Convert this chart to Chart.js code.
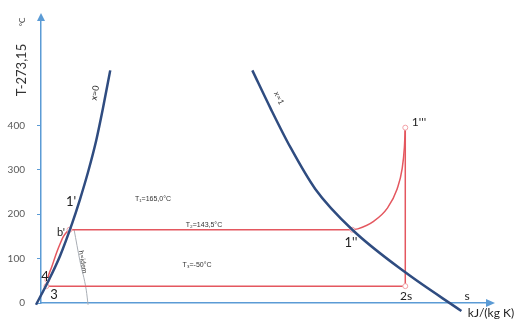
<!DOCTYPE html>
<html>
<head>
<meta charset="utf-8">
<script src="https://cdn.jsdelivr.net/npm/chart.js@4"></script>
<style>
html,body{margin:0;padding:0;background:#fff;}
#wrap{width:517px;height:323px;position:relative;}
</style>
</head>
<body>
<div id="wrap"><canvas id="c" width="517" height="323"></canvas></div>
<script>
// ---- data (s in arbitrary entropy units, T in °C) ----
const yTicks = [0, 100, 200, 300, 400];

const sSatLiquid = [-0.11, 0.16, 0.42, 0.69, 0.86, 1.04, 1.22, 1.37, 1.53];
const tSatLiquid = [-4, 49, 106, 180, 233, 295, 366, 439, 524];

const sSatVapour = [4.67, 5.07, 5.51, 6.06, 6.88, 8.05, 9.29];
const tSatVapour = [524, 439, 351, 257, 165, 69, -18];

const sHeating = [0.12, 0.14, 0.24, 0.35, 0.42, 0.49, 0.56, 0.63];
const tHeating = [38, 52, 82, 115, 133, 149, 159, 165];

const sEvap = [0.63, 6.88];
const tEvap = [165, 165];

const sSuper = [6.88, 7.0, 7.35, 7.65, 7.87, 7.98, 8.03, 8.05];
const tSuper = [165, 167, 184, 213, 257, 302, 350, 395];

const sExpansion = [8.05, 8.05];
const tExpansion = [395, 38];

const sCondense = [8.05, 0.12];
const tCondense = [38, 38];

const sStates = [0.12, 0.14, 0.63, 6.88, 8.05, 8.05];
const tStates = [38, 52, 165, 165, 395, 38];

const sIsenthalp = [0.73, 0.86, 1.0, 1.04];
const tIsenthalp = [166, 95, 29, -4];

const pts = (s, t) => s.map((v, i) => ({x: v, y: t[i]}));

const BLUE = '#2f4c80';
const RED = '#e4575f';
const AXIS = '#5b9bd5';

function line(s, t, color, width, extra) {
  return Object.assign({
    data: pts(s, t), showLine: true, borderColor: color, borderWidth: width,
    pointRadius: 0, fill: false, clip: false, cubicInterpolationMode: 'monotone'
  }, extra || {});
}

const annot = {
  id: 'annot',
  afterDraw(chart) {
    const ctx = chart.ctx;
    const {top, right} = chart.chartArea;
    const xs = chart.scales.x, ys = chart.scales.y;
    const x0 = xs.getPixelForValue(0), y0 = ys.getPixelForValue(0);
    ctx.save();
    // arrow heads
    ctx.fillStyle = AXIS;
    ctx.beginPath();
    ctx.moveTo(x0, top - 5); ctx.lineTo(x0 - 4, top + 3); ctx.lineTo(x0 + 4, top + 3); ctx.closePath(); ctx.fill();
    ctx.beginPath();
    ctx.moveTo(right + 6, y0); ctx.lineTo(right - 3, y0 - 4); ctx.lineTo(right - 3, y0 + 4); ctx.closePath(); ctx.fill();

    const txt = (t, x, y, font, color, rot) => {
      ctx.save();
      ctx.translate(x, y);
      if (rot) ctx.rotate(rot);
      ctx.font = font;
      ctx.fillStyle = color || '#222';
      ctx.textAlign = 'center';
      ctx.textBaseline = 'middle';
      ctx.fillText(t, 0, 0);
      ctx.restore();
    };
    // axis title
    txt('T-273,15', 22, 70, '13px Lato', '#333', -Math.PI / 2);
    txt('°C', 22, 22, '8px Lato', '#333', -Math.PI / 2);
    // curve names
    txt('x=0', 95, 93, '9px Lato', '#333', -80 * Math.PI / 180);
    txt('x=1', 279, 98, '8px Lato', '#333', 65 * Math.PI / 180);
    txt('h=idem', 83, 262, '7px Lato', '#333', 80 * Math.PI / 180);
    // state points
    txt("1'", 71, 202, '13px Lato', '#222');
    txt("b'", 61, 232, '11px Lato', '#222');
    txt('4', 45, 277, '13px Lato', '#222');
    txt('3', 54, 295, '13px Lato', '#222');
    txt("1''", 351, 243, '13px Lato', '#222');
    txt("1'''", 419, 122, '12px Lato', '#222');
    txt('2s', 406, 296, '12px Lato', '#222');
    txt('s', 467, 296, '12px Lato', '#222');
    txt('kJ/(kg K)', 491, 313, '12px Lato', '#222');
    // temperatures
    txt('T\u2081=165,0°C', 153, 199, '7px "Liberation Sans"', '#333');
    txt('T\u2082=143,5°C', 204, 225, '7px "Liberation Sans"', '#333');
    txt('T\u2083=-50°C', 197, 265, '7px "Liberation Sans"', '#333');
    ctx.restore();
  }
};

new Chart(document.getElementById('c'), {
  type: 'scatter',
  data: {
    datasets: [
      line(sSatLiquid, tSatLiquid, BLUE, 2.5),
      line(sSatVapour, tSatVapour, BLUE, 2.5),
      {
        data: pts(sStates, tStates), showLine: false, pointRadius: 2.5,
        pointBackgroundColor: '#fff', pointBorderColor: '#f2a0a6', pointBorderWidth: 1, clip: false
      },
      line(sHeating, tHeating, RED, 1.5),
      line(sEvap, tEvap, RED, 1.5),
      line(sSuper, tSuper, RED, 1.5),
      line(sExpansion, tExpansion, RED, 1.5),
      line(sCondense, tCondense, RED, 1.5),
      line(sIsenthalp, tIsenthalp, '#a9aeb5', 1)
    ]
  },
  options: {
    responsive: false,
    animation: false,
    events: [],
    layout: {padding: {left: 0, top: 14, right: 28, bottom: 0}},
    plugins: {legend: {display: false}, tooltip: {enabled: false}},
    scales: {
      x: {
        type: 'linear', min: 0, max: 9.9,
        afterFit: s => { s.height = 20; },
        grid: {display: true, drawOnChartArea: false, drawTicks: false, color: AXIS},
        border: {display: true, color: AXIS, width: 1.5},
        ticks: {display: false}
      },
      y: {
        type: 'linear', min: 0, max: 642,
        afterFit: s => { s.width = 41; },
        afterBuildTicks: s => { s.ticks = yTicks.map(v => ({value: v})); },
        grid: {display: true, drawOnChartArea: false, drawTicks: true, tickLength: 4, color: AXIS},
        border: {display: true, color: AXIS, width: 1.5},
        ticks: {padding: 12, color: '#595959', font: {family: 'Lato', size: 10}}
      }
    }
  },
  plugins: [annot]
});
</script>
</body>
</html>
